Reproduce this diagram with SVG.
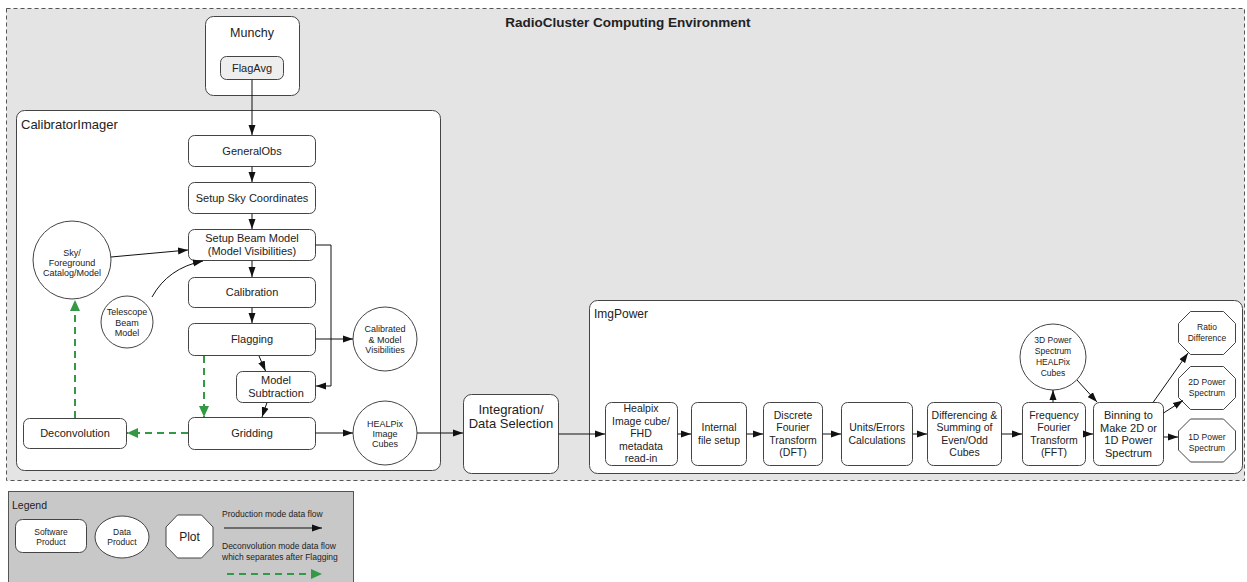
<svg xmlns="http://www.w3.org/2000/svg" width="1247" height="582" viewBox="0 0 1247 582">
  <style>
    text { font-family: "Liberation Sans", Arial, sans-serif; fill: #222; }
    .box { fill: #ffffff; stroke: #444; stroke-width: 1; }
    .grp { fill: #ffffff; stroke: #444; stroke-width: 1; }
    .t11 { font-size: 11px; text-anchor: middle; }
    .t105 { font-size: 10.5px; text-anchor: middle; }
    .t9 { font-size: 9px; text-anchor: middle; }
    .t85 { font-size: 8.5px; text-anchor: middle; }
    .flow { fill: none; stroke: #111; stroke-width: 1; marker-end: url(#arrow); }
    .decon { fill: none; stroke: #339944; stroke-width: 2; stroke-dasharray: 7 5; marker-end: url(#garrow); }
  </style>
  <defs>
    <marker id="arrow" markerUnits="userSpaceOnUse" markerWidth="10" markerHeight="8" refX="10" refY="4" orient="auto">
      <path d="M0,0.5 L10,4 L0,7.5 z" fill="#111"/>
    </marker>
    <marker id="garrow" markerUnits="userSpaceOnUse" markerWidth="11" markerHeight="10" refX="11" refY="5" orient="auto">
      <path d="M0,0 L11,5 L0,10 z" fill="#339944"/>
    </marker>
  </defs>

  <rect width="1247" height="582" fill="#ffffff"/>

  <!-- computing environment -->
  <g id="environment">
    <rect x="6.5" y="8.5" width="1238" height="472" fill="#e4e4e4" stroke="#555" stroke-width="1" stroke-dasharray="4 3"/>
    <text x="628" y="27" style="font-size:13.5px;font-weight:bold;text-anchor:middle">RadioCluster Computing Environment</text>
  </g>

  <!-- Munchy -->
  <g id="munchy">
    <rect class="grp" x="205.5" y="16.5" width="94" height="79" rx="8"/>
    <text x="252" y="37" style="font-size:12.5px;text-anchor:middle">Munchy</text>
  </g>
  <g id="flagavg">
    <rect x="220.5" y="56.5" width="63" height="23" rx="6" fill="#eeeeee" stroke="#444"/>
    <text class="t11" x="252" y="72">FlagAvg</text>
  </g>

  <!-- CalibratorImager -->
  <g id="calibratorimager">
    <rect class="grp" x="16.5" y="110.5" width="424" height="360" rx="8"/>
    <text x="21" y="129" style="font-size:13px">CalibratorImager</text>
  </g>
  <g id="generalobs">
    <rect class="box" x="188.5" y="135.5" width="127" height="31" rx="6"/>
    <text class="t11" x="252" y="154.5">GeneralObs</text>
  </g>
  <g id="skycoords">
    <rect class="box" x="188.5" y="182.5" width="127" height="31" rx="6"/>
    <text class="t11" x="252" y="201.5">Setup Sky Coordinates</text>
  </g>
  <g id="beammodel">
    <rect class="box" x="188.5" y="229.5" width="127" height="31" rx="6"/>
    <text class="t11" x="252" y="242">Setup Beam Model</text>
    <text class="t11" x="252" y="254.5">(Model Visibilities)</text>
  </g>
  <g id="calibration">
    <rect class="box" x="188.5" y="277.5" width="127" height="30" rx="6"/>
    <text class="t11" x="252" y="296">Calibration</text>
  </g>
  <g id="flagging">
    <rect class="box" x="188.5" y="323.5" width="127" height="32" rx="6"/>
    <text class="t11" x="252" y="343">Flagging</text>
  </g>
  <g id="modelsub">
    <rect class="box" x="236.5" y="371.5" width="79" height="31" rx="6"/>
    <text class="t11" x="276" y="384">Model</text>
    <text class="t11" x="276" y="397">Subtraction</text>
  </g>
  <g id="gridding">
    <rect class="box" x="188.5" y="417.5" width="127" height="32" rx="6"/>
    <text class="t11" x="252" y="437">Gridding</text>
  </g>
  <g id="deconvolution">
    <rect class="box" x="23.5" y="418.5" width="103" height="30" rx="6"/>
    <text class="t11" x="75" y="437">Deconvolution</text>
  </g>
  <g id="skymodel">
    <circle class="box" cx="72" cy="260" r="39"/>
    <text class="t9" x="72" y="255.5">Sky/</text>
    <text class="t9" x="72" y="265.5">Foreground</text>
    <text class="t9" x="72" y="275.5">Catalog/Model</text>
  </g>
  <g id="telescopebeam">
    <circle class="box" cx="127" cy="322" r="26"/>
    <text class="t9" x="127" y="314.5">Telescope</text>
    <text class="t9" x="127" y="325.5">Beam</text>
    <text class="t9" x="127" y="335.5">Model</text>
  </g>
  <g id="calibratedvis">
    <circle class="box" cx="385" cy="339" r="32"/>
    <text class="t9" x="385" y="332">Calibrated</text>
    <text class="t9" x="385" y="342.5">&amp; Model</text>
    <text class="t9" x="385" y="353">Visibilities</text>
  </g>
  <g id="healpixcubes">
    <circle class="box" cx="385" cy="433" r="32"/>
    <text class="t9" x="385" y="427">HEALPix</text>
    <text class="t9" x="385" y="437">Image</text>
    <text class="t9" x="385" y="447">Cubes</text>
  </g>

  <!-- Integration -->
  <g id="integration">
    <rect class="box" x="463.5" y="394.5" width="95" height="79" rx="8"/>
    <text x="511" y="413.5" style="font-size:13px;text-anchor:middle">Integration/</text>
    <text x="511" y="427.5" style="font-size:13px;text-anchor:middle">Data Selection</text>
  </g>

  <!-- ImgPower -->
  <g id="imgpower">
    <rect class="grp" x="589.5" y="300.5" width="653" height="173" rx="8"/>
    <text x="594" y="318" style="font-size:12px">ImgPower</text>
  </g>
  <g id="readin">
    <rect class="box" x="605.5" y="402.5" width="72" height="63" rx="6"/>
    <text class="t105" x="641" y="412">Healpix</text>
    <text class="t105" x="641" y="424.5">Image cube/</text>
    <text class="t105" x="641" y="437">FHD</text>
    <text class="t105" x="641" y="449.5">metadata</text>
    <text class="t105" x="641" y="462">read-in</text>
  </g>
  <g id="filesetup">
    <rect class="box" x="691.5" y="402.5" width="55" height="63" rx="6"/>
    <text class="t105" x="719" y="431">Internal</text>
    <text class="t105" x="719" y="443.5">file setup</text>
  </g>
  <g id="dft">
    <rect class="box" x="763.5" y="402.5" width="59" height="63" rx="6"/>
    <text class="t105" x="793" y="418.7">Discrete</text>
    <text class="t105" x="793" y="431.2">Fourier</text>
    <text class="t105" x="793" y="443.7">Transform</text>
    <text class="t105" x="793" y="456.2">(DFT)</text>
  </g>
  <g id="units">
    <rect class="box" x="841.5" y="402.5" width="71" height="63" rx="6"/>
    <text class="t105" x="877" y="431">Units/Errors</text>
    <text class="t105" x="877" y="443.5">Calculations</text>
  </g>
  <g id="differencing">
    <rect class="box" x="927.5" y="402.5" width="74" height="63" rx="6"/>
    <text class="t105" x="964.5" y="418.7">Differencing &amp;</text>
    <text class="t105" x="964.5" y="431.2">Summing of</text>
    <text class="t105" x="964.5" y="443.7">Even/Odd</text>
    <text class="t105" x="964.5" y="456.2">Cubes</text>
  </g>
  <g id="fft">
    <rect class="box" x="1022.5" y="402.5" width="63" height="63" rx="6"/>
    <text class="t105" x="1054" y="418.7">Frequency</text>
    <text class="t105" x="1054" y="431.2">Fourier</text>
    <text class="t105" x="1054" y="443.7">Transform</text>
    <text class="t105" x="1054" y="456.2">(FFT)</text>
  </g>
  <g id="binning">
    <rect class="box" x="1093.5" y="402.5" width="70" height="63" rx="6"/>
    <text class="t11" x="1128.5" y="419">Binning to</text>
    <text class="t11" x="1128.5" y="431.5">Make 2D or</text>
    <text class="t11" x="1128.5" y="444">1D Power</text>
    <text class="t11" x="1128.5" y="456.5">Spectrum</text>
  </g>
  <g id="ps3d">
    <circle class="box" cx="1053" cy="357" r="33"/>
    <text class="t85" x="1053" y="342.5">3D Power</text>
    <text class="t85" x="1053" y="353.5">Spectrum</text>
    <text class="t85" x="1053" y="364.5">HEALPix</text>
    <text class="t85" x="1053" y="375.5">Cubes</text>
  </g>
  <g id="ratiodiff">
    <polygon class="box" points="1190.5,311.5 1223.5,311.5 1235.5,323.5 1235.5,342.5 1223.5,354.5 1190.5,354.5 1178.5,342.5 1178.5,323.5"/>
    <text class="t85" x="1207" y="330">Ratio</text>
    <text class="t85" x="1207" y="340.5">Difference</text>
  </g>
  <g id="ps2d">
    <polygon class="box" points="1190.5,366.5 1223.5,366.5 1235.5,378.5 1235.5,397.5 1223.5,409.5 1190.5,409.5 1178.5,397.5 1178.5,378.5"/>
    <text class="t85" x="1207" y="385">2D Power</text>
    <text class="t85" x="1207" y="395.5">Spectrum</text>
  </g>
  <g id="ps1d">
    <polygon class="box" points="1190.5,419 1223.5,419 1235.5,431 1235.5,450 1223.5,462 1190.5,462 1178.5,450 1178.5,431"/>
    <text class="t85" x="1207" y="440">1D Power</text>
    <text class="t85" x="1207" y="450.5">Spectrum</text>
  </g>

  <!-- connectors -->
  <g id="connectors">
    <path class="flow" d="M252,79.5 V135"/>
    <path class="flow" d="M252,166.5 V182"/>
    <path class="flow" d="M252,213.5 V229"/>
    <path class="flow" d="M252,260.5 V277"/>
    <path class="flow" d="M252,307.5 V323"/>
    <path class="flow" d="M259,356 L265.5,371"/>
    <path class="flow" d="M315.5,245 H331 V386 H316"/>
    <path class="flow" d="M267,402.5 L262,417"/>
    <path class="flow" d="M315.5,339 H353"/>
    <path class="flow" d="M315.5,433 H353"/>
    <path class="flow" d="M417,433 H463"/>
    <path class="flow" d="M111,257 L188,250"/>
    <path class="flow" d="M152,297 Q168,268 203,261"/>
    <path class="flow" d="M558.5,434 H605"/>
    <path class="flow" d="M677.5,434 H691"/>
    <path class="flow" d="M746.5,434 H763"/>
    <path class="flow" d="M822.5,434 H841"/>
    <path class="flow" d="M912.5,434 H927"/>
    <path class="flow" d="M1001.5,434 H1022"/>
    <path class="flow" d="M1085.5,434 H1093"/>
    <path class="flow" d="M1053,402.5 V390"/>
    <path class="flow" d="M1077,380 L1097,402"/>
    <path class="flow" d="M1153,402.5 L1188,353"/>
    <path class="flow" d="M1163.5,413 L1183,400.5"/>
    <path class="flow" d="M1163.5,437 H1178"/>
    <path class="decon" d="M204,356 V417"/>
    <path class="decon" d="M188,433 H127"/>
    <path class="decon" d="M75,418 V300"/>
  </g>

  <!-- legend -->
  <g id="legend">
    <rect x="8.5" y="491.5" width="345" height="100" fill="#c8c8c8" stroke="#555" stroke-width="1"/>
    <text x="12" y="509" style="font-size:10.5px">Legend</text>
    <rect class="box" x="15.5" y="519.5" width="71" height="33" rx="7"/>
    <text class="t85" x="51" y="535">Software</text>
    <text class="t85" x="51" y="545">Product</text>
    <ellipse class="box" cx="122" cy="537" rx="27" ry="21"/>
    <text class="t85" x="122" y="535">Data</text>
    <text class="t85" x="122" y="545">Product</text>
    <polygon class="box" points="177.5,515 201.5,515 213,527 213,546 201.5,558 177.5,558 166,546 166,527"/>
    <text x="189.5" y="541" style="font-size:12px;text-anchor:middle">Plot</text>
    <text x="222" y="517" style="font-size:8.5px">Production mode data flow</text>
    <path class="flow" d="M224,528 H322"/>
    <text x="222" y="549" style="font-size:8.5px">Deconvolution mode data flow</text>
    <text x="222" y="560" style="font-size:8.5px">which separates after Flagging</text>
    <path class="decon" d="M227,574 H322"/>
  </g>
</svg>
